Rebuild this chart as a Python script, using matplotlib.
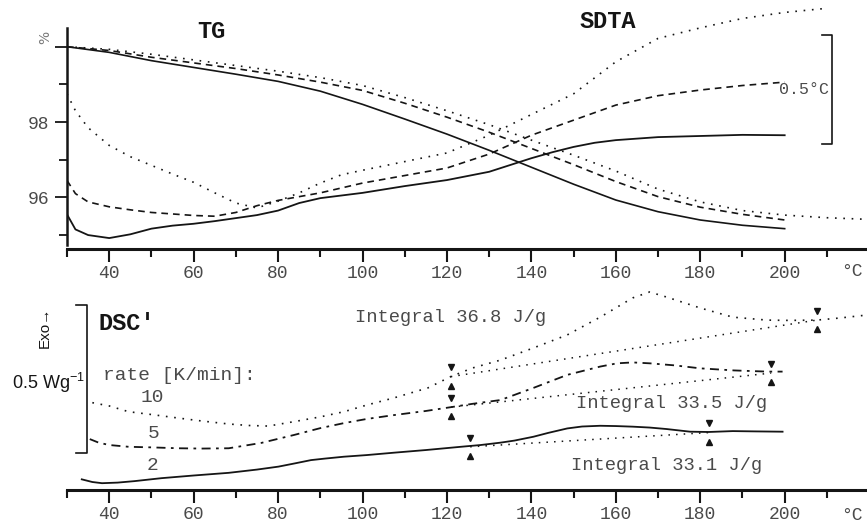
import numpy as np
import matplotlib
matplotlib.use('Agg')
from matplotlib import pyplot as plt

plt.rcParams['font.family'] = ['Liberation Mono', 'DejaVu Sans']
plt.rcParams['mathtext.fontset'] = 'custom'
plt.rcParams['mathtext.rm'] = 'Liberation Sans'

# ---- top panel: TG (mass %) and SDTA, three heating rates ----
tg_T = [30, 40, 50, 60, 70, 80, 90, 100, 110, 120, 130, 140, 150, 160, 170, 180, 190, 200]
tg_2 = [100.0, 99.85, 99.63, 99.45, 99.27, 99.08, 98.82, 98.47, 98.08, 97.68, 97.25,
        96.8, 96.35, 95.93, 95.62, 95.4, 95.26, 95.17]
tg_5 = [100.0, 99.9, 99.72, 99.57, 99.42, 99.25, 99.06, 98.84, 98.5, 98.13, 97.73,
        97.3, 96.87, 96.42, 96.02, 95.74, 95.55, 95.4]
tg_10_T = tg_T + [210, 219]
tg_10 = [100.0, 99.93, 99.8, 99.65, 99.5, 99.35, 99.18, 98.97, 98.65, 98.3, 97.93,
         97.52, 97.12, 96.7, 96.22, 95.88, 95.65, 95.53, 95.46, 95.42]

sdta_T = [30, 32, 35, 40, 45, 50, 55, 60, 65, 70, 75, 80, 85, 90, 95, 100, 110, 120,
          130, 135, 140, 145, 150, 155, 160, 170, 180, 190, 200]
sdta_2 = [95.55, 95.15, 95.0, 94.92, 95.02, 95.17, 95.25, 95.3, 95.37, 95.45, 95.53,
          95.65, 95.85, 95.98, 96.05, 96.12, 96.3, 96.46, 96.68, 96.86, 97.04, 97.2,
          97.34, 97.45, 97.52, 97.6, 97.63, 97.66, 97.65]
sdta_5_T = [30, 32, 35, 40, 45, 50, 55, 60, 65, 70, 75, 80, 85, 90, 100, 110, 120,
            130, 140, 150, 160, 170, 180, 190, 200]
sdta_5 = [96.45, 96.1, 95.88, 95.75, 95.67, 95.6, 95.56, 95.52, 95.5, 95.6, 95.78,
          95.92, 96.02, 96.12, 96.38, 96.58, 96.78, 97.15, 97.65, 98.05, 98.45,
          98.7, 98.85, 98.97, 99.06]
sdta_10_T = [30, 32, 35, 40, 45, 50, 55, 60, 65, 70, 75, 80, 85, 90, 95, 100, 110,
             120, 130, 140, 150, 160, 170, 180, 190, 200, 210]
sdta_10 = [98.75, 98.3, 97.85, 97.38, 97.08, 96.85, 96.62, 96.4, 96.12, 95.85, 95.72,
           95.9, 96.12, 96.38, 96.6, 96.72, 96.95, 97.18, 97.65, 98.2, 98.75, 99.6,
           100.22, 100.5, 100.75, 100.91, 101.02]

# ---- bottom panel: DSC' (W/g, arbitrary offset) ----
dsc10_T = [36, 40, 44.6, 50, 56.4, 62, 68.3, 73, 77.7, 83.8, 90, 95.6, 101, 107.4,
           115.5, 120.9, 126, 132.7, 140.5, 148.5, 156.3, 164, 168, 172, 180, 187.7,
           195.8, 201, 207.6, 213, 219.4]
dsc10 = [0.295, 0.284, 0.2645, 0.255, 0.243, 0.233, 0.223, 0.218, 0.216, 0.231, 0.247,
         0.2645, 0.287, 0.311, 0.345, 0.383, 0.412, 0.439, 0.48, 0.524, 0.584, 0.649,
         0.669, 0.652, 0.615, 0.584, 0.574, 0.573, 0.574, 0.581, 0.591]
dsc5_T = [35.4, 37.5, 40, 44.6, 50, 56.4, 62, 68.3, 76, 83.8, 90, 95.6, 101, 107.4,
          115, 121, 126, 132.7, 140.5, 148.5, 156.3, 160.3, 164, 168, 174, 180, 188,
          195.8, 199.5]
dsc5 = [0.172, 0.16, 0.152, 0.146, 0.144, 0.141, 0.14, 0.141, 0.159, 0.186, 0.209,
        0.226, 0.24, 0.253, 0.267, 0.28, 0.291, 0.304, 0.345, 0.389, 0.417, 0.428,
        0.431, 0.428, 0.421, 0.411, 0.404, 0.4, 0.4]
dsc2_T = [33.5, 36, 38.3, 42, 46, 52.4, 60, 68.3, 75, 80.1, 84, 87.8, 91, 95.6, 101,
          107.4, 115, 123.3, 128, 132.7, 136, 140.5, 144, 148.5, 152, 156.3, 160, 164,
          168, 172, 177.6, 182, 187.7, 193, 199.5]
dsc2 = [0.036, 0.027, 0.023, 0.025, 0.03, 0.04, 0.049, 0.058, 0.069, 0.079, 0.09,
        0.101, 0.106, 0.1125, 0.118, 0.126, 0.135, 0.146, 0.152, 0.16, 0.167, 0.18,
        0.193, 0.208, 0.2145, 0.217, 0.216, 0.214, 0.211, 0.206, 0.197, 0.196, 0.199,
        0.198, 0.197]

# integration limits (T, W/g) and results
base10 = ([120.9, 207.6], [0.383, 0.574])
base5 = ([121.0, 196.8], [0.280, 0.395])
base2 = ([125.5, 182.0], [0.146, 0.194])
integrals = ['Integral 36.8 J/g', 'Integral 33.5 J/g', 'Integral 33.1 J/g']
rates = ['10', '5', '2']

W, H = 867, 524
fig = plt.figure(figsize=(W / 100, H / 100), dpi=100)


def fx(x, y):
    return x / W, 1 - y / H


ink = '#151515'
grey = '#4a4a4a'
dot = (0, (1, 4))
dash = (0, (4, 3))
dashdot = (0, (5, 3, 1.5, 3))

# top axes
ax1 = fig.add_axes([67 / W, 275 / H, 800 / W, 249 / H])
ax1.set_xlim(30, 219.5)
ax1.set_ylim(94.63, 101.24)
ax1.plot(tg_T, tg_2, color=ink, lw=1.2)
ax1.plot(tg_T, tg_5, color=ink, lw=1.2, ls=dash)
ax1.plot(tg_10_T, tg_10, color=ink, lw=1.2, ls=dot)
ax1.plot(sdta_T, sdta_2, color=ink, lw=1.3)
ax1.plot(sdta_5_T, sdta_5, color=ink, lw=1.2, ls=dash)
ax1.plot(sdta_10_T, sdta_10, color=ink, lw=1.2, ls=dot)

# 0.5 degC scale bar
ax1.plot([208.8, 211.2, 211.2, 208.8], [100.31, 100.31, 97.42, 97.42],
         color=ink, lw=1.2, clip_on=False)
ax1.text(210.4, 98.86, '0.5°C', ha='right', va='center', fontsize=12, color=grey)

# bottom axes
ax2 = fig.add_axes([67 / W, 34 / H, 800 / W, 205 / H])
ax2.set_xlim(30, 219.5)
ax2.set_ylim(0, 0.6926)
ax2.patch.set_visible(False)
ax2.plot(dsc10_T, dsc10, color=ink, lw=1.2, ls=dot)
ax2.plot(dsc5_T, dsc5, color=ink, lw=1.3, ls=dashdot)
ax2.plot(dsc2_T, dsc2, color=ink, lw=1.3)
for bx, by in (base10, base5, base2):
    ax2.plot(bx, by, color=ink, lw=1.1, ls=dot)
    ax2.plot(bx, np.array(by) + 0.031, 'v', color=ink, ms=4, ls='none')
    ax2.plot(bx, np.array(by) - 0.031, '^', color=ink, ms=4, ls='none')

# 0.5 W/g scale bar
ax2.plot([32.1, 34.7, 34.7, 32.1], [0.625, 0.625, 0.125, 0.125],
         color=ink, lw=1.2, clip_on=False)

for ax in (ax1, ax2):
    ax.set_xticks(range(40, 201, 20))
    ax.set_xticks(range(30, 220, 10), minor=True)
    ax.tick_params(axis='x', which='major', length=9, width=1.5, pad=2.5,
                   labelsize=13, labelcolor=grey, color=ink)
    ax.tick_params(axis='x', which='minor', length=5.5, width=1.5, color=ink)
    ax.spines['bottom'].set_linewidth(2.2)
    ax.spines['bottom'].set_color(ink)
    for s in ('top', 'right'):
        ax.spines[s].set_visible(False)

ax1.spines['left'].set_bounds(94.74, 100.5)
ax1.spines['left'].set_linewidth(1.8)
ax1.spines['left'].set_color(ink)
ax1.set_yticks([100, 98, 96])
ax1.set_yticklabels(['', '98', '96'])
ax1.set_yticks([99, 97, 95], minor=True)
ax1.tick_params(axis='y', which='major', length=8.5, width=1.3, pad=4,
                labelsize=13, labelcolor=grey, color=ink)
ax1.tick_params(axis='y', which='minor', length=6, width=1.3, color=ink)
ax2.spines['left'].set_visible(False)
ax2.set_yticks([])

# texts
fig.text(*fx(45, 37), '%', rotation=90, ha='center', va='center', fontsize=10,
         color='#777777', family='DejaVu Sans')
fig.text(*fx(211, 32), 'TG', ha='center', va='center', fontsize=17,
         fontweight='bold', color=ink)
fig.text(*fx(608, 22), 'SDTA', ha='center', va='center', fontsize=17,
         fontweight='bold', color=ink)
fig.text(*fx(127, 324), "DSC'", ha='center', va='center', fontsize=17,
         fontweight='bold', color=ink)
fig.text(*fx(852, 272), '°C', ha='center', va='center', fontsize=13, color=grey)
fig.text(*fx(852, 515), '°C', ha='center', va='center', fontsize=13, color=grey)
fig.text(*fx(45, 327), 'Exo→', rotation=90, ha='center', va='center',
         fontsize=11, color=ink, family=['Liberation Sans', 'DejaVu Sans'])
fig.text(*fx(12, 383), r'0.5 Wg$^{-1}$', ha='left', va='center', fontsize=13,
         color=ink, family='Liberation Sans')
fig.text(*fx(103, 376), 'rate [K/min]:', ha='left', va='center', fontsize=14,
         color=grey)
for lab, (lx, ly) in zip(rates, [(152, 397), (154, 434), (153, 465)]):
    fig.text(*fx(lx, ly), lab, ha='center', va='center', fontsize=14, color=grey)
for lab, (lx, ly) in zip(integrals, [(355, 318), (576, 403), (571, 465)]):
    fig.text(*fx(lx, ly), lab, ha='left', va='center', fontsize=13.5, color=grey)

fig.savefig('out.png', dpi=100)
